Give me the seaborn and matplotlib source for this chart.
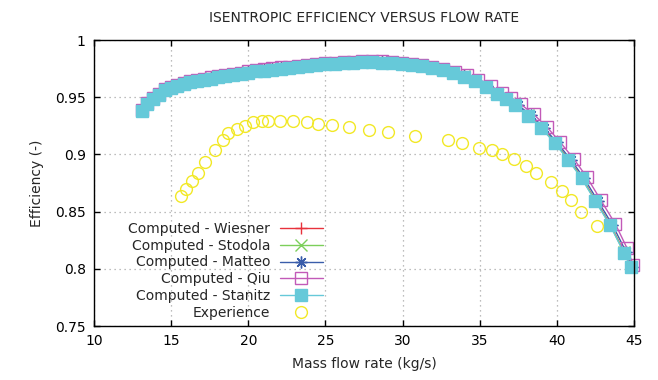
import matplotlib
matplotlib.use("Agg")
import matplotlib.pyplot as plt
import seaborn as sns
import pandas as pd

# ---- data ----
flow_computed = [13.1, 13.45, 13.8, 14.2, 14.6, 15.0, 15.4, 15.8, 16.25, 16.7,
                 17.15, 17.6, 18.05, 18.5, 19.0, 19.5, 20.0, 20.5, 21.0, 21.55,
                 22.1, 22.65, 23.2, 23.8, 24.4, 25.0, 25.6, 26.2, 26.8, 27.4,
                 28.0, 28.65, 29.3, 29.95, 30.6, 31.25, 31.9, 32.6, 33.3, 34.0,
                 34.7, 35.4, 36.1, 36.7, 37.3, 38.15, 39.0, 39.85, 40.75, 41.6,
                 42.5, 43.45, 44.35, 44.8]
eff_stanitz = [0.938, 0.944, 0.948, 0.952, 0.956, 0.958, 0.960, 0.9615, 0.963, 0.9642,
               0.9653, 0.9663, 0.9673, 0.9683, 0.9695, 0.9706, 0.9716, 0.9725, 0.9733, 0.9742,
               0.975, 0.9758, 0.9766, 0.9774, 0.978, 0.9787, 0.9793, 0.9798, 0.9802, 0.9804,
               0.9805, 0.9803, 0.9799, 0.9792, 0.9782, 0.977, 0.9755, 0.9735, 0.971, 0.968,
               0.964, 0.959, 0.953, 0.948, 0.943, 0.934, 0.923, 0.910, 0.895, 0.879,
               0.859, 0.838, 0.814, 0.8015]
eff_wiesner = [0.939, 0.945, 0.949, 0.953, 0.957, 0.959, 0.961, 0.9625, 0.964, 0.9652,
               0.9663, 0.9673, 0.9683, 0.9693, 0.9705, 0.9716, 0.9726, 0.9735, 0.9743, 0.9752,
               0.976, 0.9768, 0.9776, 0.9784, 0.979, 0.9797, 0.9803, 0.9808, 0.9812, 0.9814,
               0.9815, 0.9813, 0.9809, 0.9802, 0.9792, 0.978, 0.9765, 0.9745, 0.972, 0.969,
               0.965, 0.960, 0.954, 0.949, 0.944, 0.935, 0.924, 0.911, 0.896, 0.880,
               0.860, 0.839, 0.815, 0.803]
eff_stodola = [0.9385, 0.9445, 0.9485, 0.9525, 0.9565, 0.9585, 0.9605, 0.962, 0.9635, 0.9647,
               0.9658, 0.9668, 0.9678, 0.9688, 0.97, 0.9711, 0.9721, 0.973, 0.9738, 0.9747,
               0.9755, 0.9763, 0.9771, 0.9779, 0.9785, 0.9792, 0.9798, 0.9803, 0.9807, 0.9809,
               0.981, 0.9808, 0.9804, 0.9797, 0.9787, 0.9775, 0.976, 0.974, 0.9715, 0.9685,
               0.9645, 0.9595, 0.9535, 0.9485, 0.9435, 0.9345, 0.9235, 0.9105, 0.8955, 0.8795,
               0.8595, 0.8385, 0.8145, 0.802]
flow_matteo = [13.1, 13.45, 13.8, 14.2, 14.6, 15.0, 15.4, 15.8, 16.25, 16.7,
               17.15, 17.6, 18.05, 18.5, 19.0, 19.5, 20.0, 20.5, 21.0, 21.55,
               22.1, 22.65, 23.2, 23.8, 24.4, 25.0, 25.6, 26.2, 26.8, 27.4,
               28.0, 28.65, 29.3, 29.95, 30.6, 31.25, 31.9, 32.6, 33.3, 34.0,
               34.8, 35.5, 36.25, 36.85, 37.45, 38.3, 39.15, 40.0, 40.9, 41.75,
               42.65, 43.6, 44.5, 44.9]
eff_matteo = [0.9385, 0.9445, 0.9485, 0.9525, 0.9565, 0.9585, 0.9605, 0.962, 0.9635, 0.9647,
              0.9658, 0.9668, 0.9678, 0.9688, 0.97, 0.9711, 0.9721, 0.973, 0.9738, 0.9747,
              0.9755, 0.9763, 0.9771, 0.9779, 0.9785, 0.9792, 0.9798, 0.9803, 0.9807, 0.9809,
              0.981, 0.9808, 0.9804, 0.9797, 0.9787, 0.9775, 0.976, 0.974, 0.9715, 0.9685,
              0.9645, 0.9595, 0.9535, 0.9485, 0.9435, 0.9345, 0.9235, 0.9105, 0.8955, 0.8795,
              0.8595, 0.8385, 0.8145, 0.802]
flow_qiu = [13.1, 13.45, 13.8, 14.2, 14.6, 15.0, 15.4, 15.8, 16.25, 16.7,
            17.15, 17.6, 18.05, 18.5, 19.0, 19.5, 20.0, 20.5, 21.0, 21.55,
            22.1, 22.65, 23.2, 23.8, 24.4, 25.0, 25.6, 26.2, 26.8, 27.4,
            28.0, 28.65, 29.3, 29.95, 30.6, 31.25, 31.9, 32.65, 33.4, 34.15,
            34.9, 35.7, 36.45, 37.05, 37.65, 38.5, 39.35, 40.2, 41.1, 41.95,
            42.85, 43.8, 44.55, 44.95]
eff_qiu = [0.939, 0.945, 0.949, 0.953, 0.957, 0.959, 0.961, 0.9625, 0.964, 0.9652,
           0.9663, 0.9673, 0.9683, 0.9693, 0.9705, 0.9716, 0.9726, 0.9735, 0.9743, 0.9752,
           0.976, 0.9768, 0.9776, 0.9784, 0.979, 0.9797, 0.9803, 0.9808, 0.9812, 0.9814,
           0.9815, 0.9813, 0.9809, 0.9802, 0.9792, 0.978, 0.9765, 0.9745, 0.972, 0.969,
           0.965, 0.960, 0.954, 0.949, 0.944, 0.935, 0.924, 0.911, 0.896, 0.880,
           0.860, 0.839, 0.818, 0.803]
flow_exp = [15.62, 15.94, 16.33, 16.76, 17.21, 17.84, 18.34, 18.66, 19.29, 19.79,
            20.33, 20.87, 21.26, 22.05, 22.92, 23.78, 24.54, 25.40, 26.53, 27.82,
            29.07, 30.83, 32.92, 33.83, 34.95, 35.77, 36.46, 37.20, 37.98, 38.65,
            39.60, 40.33, 40.89, 41.58, 42.58]
eff_exp = [0.864, 0.870, 0.877, 0.884, 0.893, 0.904, 0.9125, 0.919, 0.9225, 0.925,
           0.928, 0.929, 0.929, 0.929, 0.929, 0.928, 0.927, 0.9257, 0.924, 0.921,
           0.9196, 0.9164, 0.9125, 0.9096, 0.906, 0.904, 0.900, 0.896, 0.890, 0.884,
           0.876, 0.868, 0.860, 0.850, 0.837]

sns.set_style("ticks")
plt.rcParams['font.family'] = ['DejaVu Sans']
plt.rcParams['font.size'] = 10

fig = plt.figure(figsize=(6.58, 3.8), dpi=100)
ax = fig.add_axes([0.1429, 0.1421, 0.8206, 0.7526])

ms = 8.5
series = [
    ("Computed - Wiesner", flow_computed, eff_wiesner, "#e8323c", "+", "#e8323c"),
    ("Computed - Stodola", flow_computed, eff_stodola, "#7ccf5a", "x", "#7ccf5a"),
    ("Computed - Matteo", flow_matteo, eff_matteo, "#3a5daa", (8, 2, 0), "#3a5daa"),
    ("Computed - Qiu", flow_qiu, eff_qiu, "#c25ab8", "s", "none"),
    ("Computed - Stanitz", flow_computed, eff_stanitz, "#66c9d9", "s", "#66c9d9"),
]
for label, fx, fy, col, mk, fc in series:
    df = pd.DataFrame({"flow": fx, "eff": fy})
    sns.lineplot(data=df, x="flow", y="eff", sort=False, ax=ax, color=col,
                 lw=1, marker=mk, markersize=ms, markerfacecolor=fc,
                 markeredgecolor=col, markeredgewidth=1, label=label, clip_on=False)

df_exp = pd.DataFrame({"flow": flow_exp, "eff": eff_exp})
ax.plot(df_exp["flow"], df_exp["eff"], ls="none", marker="o", markersize=ms,
        markerfacecolor="none", markeredgecolor="#f2e826", markeredgewidth=1,
        label="Experience", clip_on=False)

ax.set_xlim(10, 45)
ax.set_ylim(0.75, 1.0)
ax.set_xticks([10, 15, 20, 25, 30, 35, 40, 45])
ax.set_yticks([0.75, 0.8, 0.85, 0.9, 0.95, 1.0])
ax.set_yticklabels(["0.75", "0.8", "0.85", "0.9", "0.95", "1"])
ax.tick_params(direction="in", length=4.5, width=1, top=True, right=True,
               labelsize=10, colors="black", pad=6)
ax.grid(True, ls=(0, (1, 3)), color="#a8a8a8", lw=0.9)
for s in ax.spines.values():
    s.set_visible(True)
    s.set_linewidth(1)
    s.set_color("black")

ax.set_xlabel("Mass flow rate (kg/s)", fontsize=10, labelpad=6)
ax.set_ylabel("Efficiency (-)", fontsize=10, labelpad=8)
ax.set_title("ISENTROPIC EFFICIENCY VERSUS FLOW RATE", fontsize=10, pad=13)

ax.legend(loc="upper right", bbox_to_anchor=(0.424, 0.364), frameon=False,
          markerfirst=False, fontsize=10, labelspacing=0.2, handlelength=3.1,
          handletextpad=0.7, borderpad=0, borderaxespad=0)

fig.savefig("out.png", dpi=100)
